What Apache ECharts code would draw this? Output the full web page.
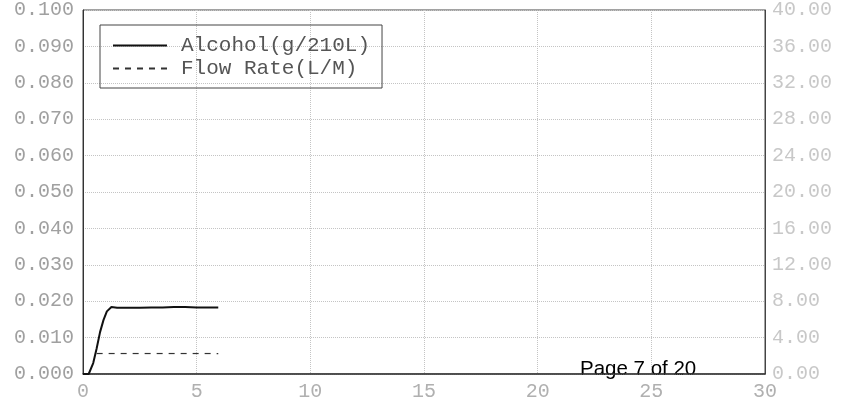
<!DOCTYPE html>
<html><head><meta charset="utf-8">
<script src="https://cdn.jsdelivr.net/npm/echarts@6/dist/echarts.min.js"></script>
<style>html,body{margin:0;padding:0;background:#fff}#c{width:849px;height:403px}</style>
</head><body><div id="c"></div>
<script>
const alcoholSeries = [[0,0],[0.25,0],[0.45,0.003],[0.6,0.007],[0.75,0.0115],[0.9,0.0148],[1.05,0.0172],[1.25,0.0184],[1.5,0.0182],[2,0.0182],[2.5,0.0182],[3,0.0183],[3.5,0.0183],[4,0.0184],[4.5,0.0184],[5,0.0183],[5.5,0.0183],[5.95,0.0183]];
const flowSeries = [[0.6,2.25],[5.95,2.25]];
const seriesNames = ['Alcohol(g/210L)','Flow Rate(L/M)'];
const pageText = 'Page 7 of 20';
const mono = 'Liberation Mono';
const chart = echarts.init(document.getElementById('c'));
chart.setOption({
  animation:false,
  backgroundColor:'#fff',
  grid:{left:83,right:84,top:7,bottom:29,show:true,borderColor:'#444',borderWidth:1},
  legend:{
    orient:'vertical',left:100,top:25,
    borderColor:'#444',borderWidth:1,borderRadius:0,
    padding:[10,12,9,12],itemGap:2,itemWidth:54,itemHeight:14,
    itemStyle:{opacity:0},
    textStyle:{fontFamily:mono,fontSize:21,color:'#555',padding:[0,0,0,9]},
    data:seriesNames
  },
  xAxis:{type:'value',min:0,max:30,interval:5,
    axisLine:{show:true,onZero:false,lineStyle:{color:'#333',width:1.5}},
    axisTick:{show:false},
    axisLabel:{fontFamily:mono,fontSize:20,color:'#b0b0b0',margin:8},
    splitLine:{show:true,lineStyle:{type:'dotted',color:'#c4c4c4'}}
  },
  yAxis:[
    {type:'value',min:0,max:0.1,interval:0.01,
     axisLine:{show:true,lineStyle:{color:'#333'}},axisTick:{show:false},
     axisLabel:{fontFamily:mono,fontSize:20,color:'#a0a0a0',margin:9,formatter:v=>v.toFixed(3)},
     splitLine:{show:true,lineStyle:{type:'dotted',color:'#c4c4c4'}}},
    {type:'value',min:0,max:40,interval:4,position:'right',
     axisLine:{show:true,lineStyle:{color:'#444'}},axisTick:{show:false},
     axisLabel:{fontFamily:mono,fontSize:20,color:'#c8c8c8',margin:7,formatter:v=>v.toFixed(2)},
     splitLine:{show:false}}
  ],
  series:[
    {name:seriesNames[0],type:'line',yAxisIndex:0,data:alcoholSeries,showSymbol:false,symbol:'none',
     lineStyle:{color:'#111',width:2},itemStyle:{color:'#111'}},
    {name:seriesNames[1],type:'line',yAxisIndex:1,data:flowSeries,showSymbol:false,symbol:'none',
     lineStyle:{color:'#333',width:1.2,type:[6,6]},itemStyle:{color:'#333'}}
  ],
  graphic:[{type:'text',left:580,top:359,style:{text:pageText,font:'20.5px "Liberation Sans", Arial, sans-serif',fill:'#000'}}]
});
</script></body></html>
